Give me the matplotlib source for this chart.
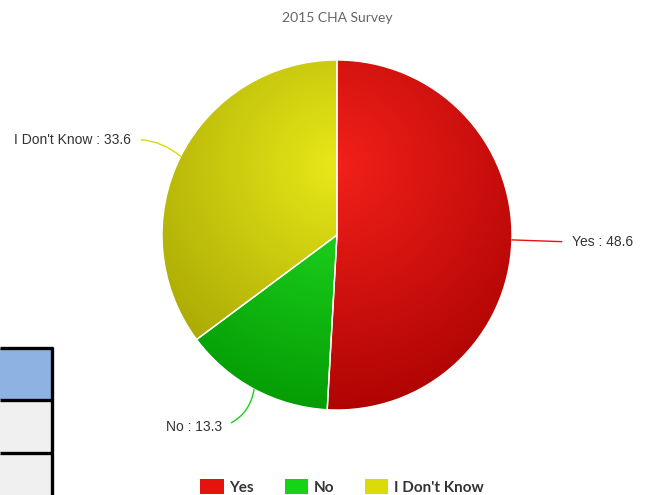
import matplotlib.pyplot as plt
import numpy as np
from matplotlib.patches import Patch, Rectangle

title = "2015 CHA Survey"
labels = ["Yes", "No", "I Don't Know"]
values = [48.6, 13.3, 33.6]
base_colors = [(242, 32, 26), (36, 224, 36), (232, 232, 24)]

# where each value label sits (data units, pie radius = 1)
label_pos = [(1.34, -0.04), (-0.655, -1.095), (-1.175, 0.545)]
label_ha = ["left", "right", "right"]
conn_rad = [0.0, 0.3, -0.2]


def shade(rgb, amount):
    return np.clip((np.array(rgb, dtype=float) + 255 * amount) / 255, 0, 1)


fig = plt.figure(figsize=(6.45, 4.95), dpi=100)
ax = fig.add_axes([162 / 645, 85 / 495, 350 / 645, 350 / 495])

wedges, _ = ax.pie(values, startangle=90, counterclock=False,
                   colors=[shade(c, 0) for c in base_colors],
                   wedgeprops=dict(edgecolor="white", linewidth=1))

# radial gradient over the whole pie: bright just above the centre, darker outward
X, Y = np.meshgrid(np.linspace(-1, 1, 400), np.linspace(1, -1, 400))
t = np.clip(np.hypot(X, Y - 0.4) / 1.6, 0, 1)
for w, c in zip(wedges, base_colors):
    c0, c1 = shade(c, 0), shade(c, -0.3)
    img = c0 + (c1 - c0) * t[..., None]
    im = ax.imshow(img, extent=(-1, 1, -1, 1), origin="upper", zorder=1,
                   interpolation="bilinear")
    im.set_clip_path(w)
    w.set_facecolor("none")
    w.set_zorder(2)

ax.set_xlim(-1, 1)
ax.set_ylim(-1, 1)
ax.set_aspect("equal")
ax.axis("off")

for w, lab, val, c, pos, ha, rad in zip(wedges, labels, values, base_colors,
                                        label_pos, label_ha, conn_rad):
    ang = np.deg2rad((w.theta1 + w.theta2) / 2)
    edge = (np.cos(ang), np.sin(ang))
    ax.annotate(f"{lab} : {val}", xy=edge, xytext=pos, ha=ha, va="center",
                fontsize=10, color="#333333", family="Liberation Sans",
                arrowprops=dict(arrowstyle="-", color=shade(c, -0.05), lw=1,
                                connectionstyle=f"arc3,rad={rad}",
                                relpos=(0 if ha == "left" else 1, 0.5),
                                shrinkA=5, shrinkB=0))

fig.text(337 / 645, 1 - 18 / 495, title, ha="center", va="center",
         fontsize=10, color="#666666", family="Lato")

handles = [Patch(facecolor=shade(c, -0.05), edgecolor="none") for c in base_colors]
fig.legend(handles, labels, loc="center", bbox_to_anchor=(342 / 645, 1 - 487 / 495),
           ncol=3, frameon=False, handlelength=1.55, handleheight=1.05,
           columnspacing=2.0, handletextpad=0.35, labelcolor="#333333",
           prop=dict(family="Lato", weight="bold", size=11))

# table edge peeking in at the lower left
bg = fig.add_axes([0, 0, 1, 1], zorder=-1)
bg.set_xlim(0, 645)
bg.set_ylim(495, 0)
bg.axis("off")
bg.add_patch(Rectangle((0, 348), 51.5, 51, facecolor="#8db3e2", edgecolor="none"))
bg.add_patch(Rectangle((0, 399), 51.5, 100, facecolor="#f0f0f0", edgecolor="none"))
for y in [348, 399.5, 452.5]:
    bg.plot([0, 53], [y, y], color="black", lw=2.4, solid_capstyle="butt")
bg.plot([51.7, 51.7], [346.5, 495], color="black", lw=2.4, solid_capstyle="butt")

fig.savefig("out.png", dpi=100)
